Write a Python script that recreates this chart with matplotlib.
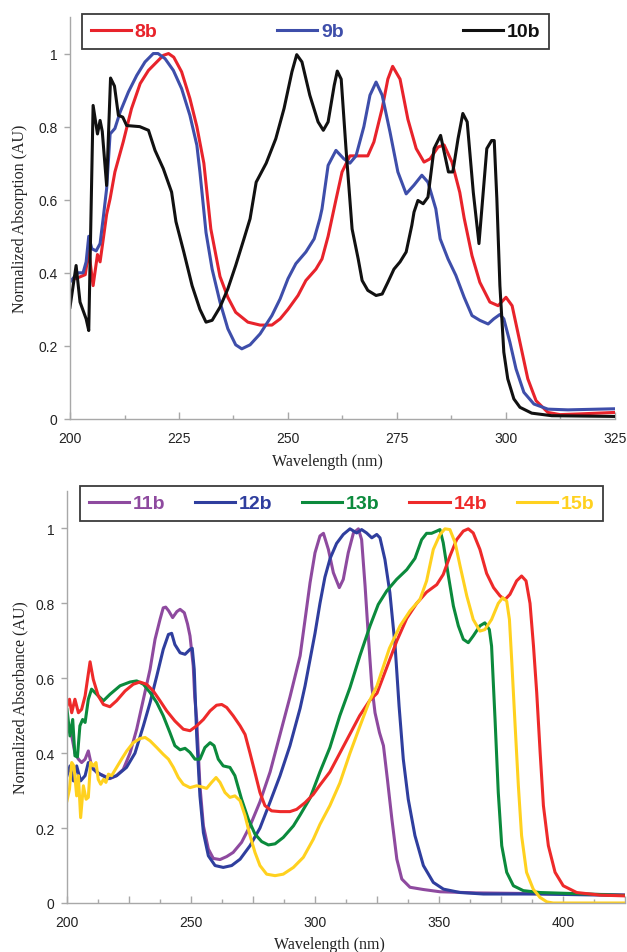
import matplotlib
matplotlib.use('Agg')
import matplotlib.pyplot as plt
from matplotlib.ticker import MultipleLocator, FuncFormatter
from matplotlib.font_manager import FontProperties

# ---------------- top panel data ----------------
top_labels = ['8b', '9b', '10b']
top_colors = ['#E8232B', '#3E4EAA', '#111111']

x_8b = [200, 201.5, 203.5, 204.3, 205.3, 206.3, 206.9, 207.6, 208.4, 209.2, 210.3, 212.2, 214.1, 216.1,
        218, 219.9, 221.4, 222.6, 223.8, 225.6, 227.5, 229.1, 230.7, 232.3, 234.4, 236.2, 238, 240.8,
        243.6, 246.3, 248.2, 250, 252.3, 254.1, 256.4, 257.8, 259.2, 261, 262.4, 264.2, 266.5, 268.3,
        269.7, 271.6, 272.9, 274, 275.7, 277.5, 279.4, 281.2, 282.6, 284.4, 285.8, 287.6, 289.4, 290.4,
        292.2, 294, 296.3, 298.2, 300, 301.4, 303.2, 305, 306.9, 309.6, 312.4, 317, 325]
y_8b = [0.38, 0.385, 0.395, 0.46, 0.365, 0.45, 0.43, 0.49, 0.56, 0.603, 0.676, 0.758, 0.849, 0.918,
        0.954, 0.977, 0.995, 1.0, 0.99, 0.95, 0.877, 0.80, 0.70, 0.52, 0.39, 0.333, 0.292, 0.265,
        0.257, 0.257, 0.274, 0.30, 0.338, 0.379, 0.41, 0.438, 0.50, 0.60, 0.676, 0.72, 0.72, 0.72,
        0.758, 0.85, 0.93, 0.965, 0.93, 0.82, 0.74, 0.703, 0.712, 0.744, 0.75, 0.703, 0.62, 0.55,
        0.447, 0.374, 0.32, 0.31, 0.333, 0.31, 0.21, 0.11, 0.05, 0.018, 0.012, 0.014, 0.018]

x_9b = [200, 201.8, 203, 203.7, 204.3, 205, 206, 206.9, 207.6, 208.4, 209.2, 210.3, 211.5, 213.4, 215.3,
        217.2, 219.1, 220.2, 221.8, 223.7, 225.6, 227.5, 229.1, 229.8, 231.2, 232.6, 234.4, 236.2, 238,
        239.4, 241.3, 243.6, 246.3, 248.2, 250, 251.8, 254.1, 256, 257.3, 257.8, 259.2, 261, 262.8,
        264.2, 265.6, 267.4, 268.8, 270.2, 271.6, 273.4, 275.2, 277.1, 278.9, 280.7, 282.1, 283.9,
        284.9, 286.7, 288.5, 290.4, 292.2, 294, 295.9, 297.2, 298.6, 299.5, 300.9, 302.3, 304.1, 306.4,
        309.6, 314.2, 325]
y_9b = [0.375, 0.40, 0.40, 0.43, 0.50, 0.466, 0.46, 0.48, 0.548, 0.63, 0.78, 0.795, 0.84, 0.895, 0.94,
        0.977, 1.0, 1.0, 0.986, 0.954, 0.904, 0.831, 0.749, 0.676, 0.51, 0.41, 0.32, 0.247, 0.203,
        0.192, 0.203, 0.233, 0.283, 0.329, 0.384, 0.425, 0.457, 0.493, 0.548, 0.575, 0.694, 0.735, 0.712,
        0.70, 0.72, 0.80, 0.886, 0.922, 0.886, 0.785, 0.676, 0.616, 0.64, 0.667, 0.648, 0.575,
        0.493, 0.438, 0.393, 0.333, 0.283, 0.27, 0.26, 0.274, 0.286, 0.274, 0.21, 0.137, 0.073, 0.041,
        0.027, 0.025, 0.028]

x_10b = [200, 201.4, 202.3, 203.7, 204.3, 205.3, 206.3, 206.9, 207.4, 208.4, 209.3, 210.2, 211.1, 212.1,
         213, 216, 218, 219.5, 221.4, 223.3, 224.3, 226.1, 228, 229.8, 231.2, 232.6, 234.4, 236.2, 238,
         239.9, 241.3, 242.7, 245, 247.2, 249.1, 250.9, 252, 253.2, 255, 256.9, 258.1, 259.2, 260.6,
         261.3, 262.2, 263.3, 264.7, 266.1, 267, 268.3, 270.2, 271.6, 272.9, 274.3, 275.7, 277.1, 278.4,
         278.9, 279.8, 281, 282.1, 283.5, 285, 286.8, 287.8, 289, 290.1, 291.1, 292.5, 293.8, 295.6,
         296.7, 297.3, 297.9, 298.6, 299.5, 300.4, 301.8, 303.2, 305.9, 310.5, 325]
y_10b = [0.306, 0.42, 0.32, 0.274, 0.242, 0.858, 0.78, 0.817, 0.787, 0.639, 0.933, 0.911, 0.831, 0.826,
         0.803, 0.80, 0.79, 0.735, 0.685, 0.621, 0.54, 0.457, 0.365, 0.30, 0.265, 0.27, 0.306, 0.356, 0.42,
         0.493, 0.548, 0.648, 0.70, 0.767, 0.85, 0.95, 0.997, 0.977, 0.886, 0.813, 0.79, 0.813, 0.913,
         0.952, 0.93, 0.74, 0.52, 0.438, 0.379, 0.352, 0.338, 0.342, 0.374, 0.41, 0.43, 0.457, 0.53,
         0.566, 0.598, 0.589, 0.607, 0.74, 0.776, 0.676, 0.676, 0.767, 0.836, 0.813, 0.62, 0.48, 0.74,
         0.762, 0.762, 0.603, 0.365, 0.183, 0.11, 0.055, 0.032, 0.016, 0.009, 0.007]

# ---------------- bottom panel data ----------------
bot_labels = ['11b', '12b', '13b', '14b', '15b']
bot_colors = ['#8E4A9F', '#2F3E9E', '#0B8A3C', '#EE2A2A', '#FFD11F']

x_11b = [200, 201.9, 203.2, 204.6, 205.9, 207.3, 208.6, 209.9, 212, 214.7, 217.3, 220, 222.7, 225.4, 228.1,
         230.8, 233.5, 235.5, 237.5, 238.8, 239.8, 241, 242.6, 244.3, 245.6, 247.3, 248.6, 249.6, 250.9,
         251.5, 252.3, 253.6, 255, 257, 259, 261.7, 264.4, 267, 270.4, 273.8, 277.8, 281.9, 285.9, 289.9,
         294, 296, 298, 300, 302, 303.4, 305.4, 307.4, 309.8, 311.4, 313.4, 315.5, 317.5, 318.8, 320.2,
         321.5, 322.9, 324.2, 326, 327.6, 329.2, 331, 333, 335, 338.3, 343.7, 350.4, 365, 390, 425]
y_11b = [0.473, 0.446, 0.40, 0.384, 0.375, 0.384, 0.406, 0.366, 0.348, 0.34, 0.332, 0.34, 0.357, 0.40, 0.464,
         0.544, 0.624, 0.704, 0.757, 0.788, 0.79, 0.78, 0.762, 0.778, 0.784, 0.775, 0.745, 0.713, 0.633,
         0.55, 0.49, 0.313, 0.206, 0.144, 0.119, 0.116, 0.124, 0.135, 0.162, 0.206, 0.27, 0.35, 0.45, 0.55,
         0.66, 0.757, 0.855, 0.935, 0.98, 0.987, 0.944, 0.882, 0.842, 0.864, 0.935, 0.988, 0.999, 0.97, 0.846,
         0.713, 0.58, 0.508, 0.455, 0.42, 0.33, 0.224, 0.117, 0.064, 0.042, 0.036, 0.03, 0.027, 0.025, 0.022]

x_12b = [200, 201.2, 202.6, 203.9, 205.5, 207.3, 208.6, 210.6, 213.3, 216.7, 220, 224, 227.4, 230.8, 233.5,
         236.2, 238.8, 240.9, 242.2, 243.5, 245.6, 247.6, 249.6, 250.5, 251.3, 252.3, 253.6, 255, 257,
         259.7, 263, 266.4, 269.8, 273.8, 277.8, 281.9, 285.9, 289.9, 294, 296, 298, 300, 302, 304, 306.1,
         308.7, 311.4, 314.1, 316.8, 318.8, 320.8, 322.9, 324.9, 326.2, 328.2, 330.2, 332.3, 333.9, 335.6,
         337.6, 340.3, 343.7, 347.7, 351.8, 358.5, 367.9, 390, 425]
y_12b = [0.34, 0.366, 0.326, 0.366, 0.326, 0.34, 0.375, 0.357, 0.344, 0.332, 0.34, 0.362, 0.40, 0.473, 0.535,
         0.606, 0.677, 0.717, 0.72, 0.69, 0.668, 0.664, 0.677, 0.68, 0.624, 0.446, 0.286, 0.188, 0.126,
         0.10, 0.095, 0.10, 0.117, 0.153, 0.20, 0.27, 0.34, 0.42, 0.52, 0.58, 0.65, 0.72, 0.80, 0.87, 0.92,
         0.96, 0.984, 0.999, 0.988, 0.997, 0.988, 0.975, 0.984, 0.975, 0.917, 0.828, 0.686, 0.526, 0.384,
         0.277, 0.18, 0.10, 0.055, 0.037, 0.028, 0.024, 0.024, 0.02]

x_13b = [200, 201.2, 202.3, 203.2, 204.2, 205.2, 206.3, 207.3, 208.6, 209.9, 212, 214.7, 217.3, 221.4, 225.4,
         228.1, 230.8, 233.5, 236.2, 238.8, 241.5, 243.5, 245.6, 247.6, 249.6, 251.6, 253.6, 255.6, 257.7,
         259.3, 261, 263, 265.7, 267.7, 270.4, 273.1, 275.8, 278.5, 281.2, 283.9, 287.2, 291.3, 294, 298,
         302, 306, 310, 314.1, 318.1, 322.2, 325.5, 328.9, 332.9, 337, 340.3, 343, 345, 347, 349.1, 350.4,
         351.7, 353.8, 355.8, 357.8, 359.8, 361.8, 363.8, 366.5, 368.5, 370.3, 371.2, 372.6, 373.9, 375.3,
         377.3, 380, 384, 390.7, 410, 425]
y_13b = [0.517, 0.446, 0.49, 0.393, 0.39, 0.473, 0.49, 0.482, 0.544, 0.571, 0.557, 0.54, 0.557, 0.58, 0.59,
         0.593, 0.584, 0.562, 0.535, 0.50, 0.455, 0.42, 0.409, 0.413, 0.402, 0.384, 0.384, 0.415, 0.428,
         0.42, 0.384, 0.366, 0.362, 0.34, 0.277, 0.224, 0.184, 0.164, 0.155, 0.158, 0.175, 0.206, 0.235, 0.28,
         0.35, 0.415, 0.50, 0.575, 0.66, 0.74, 0.797, 0.833, 0.864, 0.89, 0.92, 0.97, 0.987, 0.987, 0.993, 0.997,
         0.962, 0.873, 0.793, 0.74, 0.704, 0.695, 0.713, 0.74, 0.748, 0.73, 0.686, 0.49, 0.295, 0.153,
         0.082, 0.046, 0.033, 0.028, 0.024, 0.02]

x_14b = [200, 201, 201.9, 203.2, 204.6, 205.9, 207.3, 209.3, 210.6, 212.6, 214.7, 217.3, 220, 223.4, 226.7,
         229.4, 232.1, 234.8, 237.5, 240.2, 243.5, 246.9, 249.6, 252.3, 255, 257.7, 260.3, 262.4, 264.4,
         267, 269.8, 271.8, 273.8, 275.8, 277.8, 279.8, 282.5, 285.9, 289.9, 292.6, 296, 299.3, 302, 306,
         310, 314, 318, 322, 325, 329, 333, 337, 341, 345, 349.1, 351.7, 354.4, 357.1, 359.8, 361.8, 363.8,
         366.5, 369.2, 372, 374.6, 376.6, 378.6, 381.3, 383.3, 385.1, 386.7, 388.1, 389.4, 390.8, 392.1,
         394.1, 396.8, 400.1, 405.5, 415, 425]
y_14b = [0.526, 0.544, 0.508, 0.544, 0.508, 0.517, 0.553, 0.644, 0.597, 0.553, 0.53, 0.524, 0.54, 0.566, 0.584,
         0.59, 0.584, 0.566, 0.54, 0.513, 0.486, 0.464, 0.46, 0.473, 0.49, 0.513, 0.528, 0.53, 0.522,
         0.50, 0.473, 0.45, 0.40, 0.348, 0.295, 0.26, 0.246, 0.244, 0.244, 0.25, 0.268, 0.29, 0.315, 0.35,
         0.40, 0.45, 0.50, 0.54, 0.56, 0.63, 0.70, 0.76, 0.80, 0.83, 0.85, 0.877, 0.926, 0.97, 0.993, 0.999, 0.988,
         0.944, 0.88, 0.842, 0.82, 0.81, 0.824, 0.86, 0.873, 0.86, 0.80, 0.686, 0.562, 0.40, 0.26,
         0.153, 0.082, 0.046, 0.028, 0.021, 0.019]

x_15b = [200, 201, 201.9, 202.8, 203.9, 204.6, 205.5, 206.6, 207.7, 208.6, 209.5, 210.6, 211.7, 212.6, 213.6,
         214.7, 215.7, 216.7, 218, 220, 222, 224.1, 226.7, 229.4, 231.5, 233.5, 236.2, 238.8, 240.9, 242.9,
         244.9, 246.9, 249.6, 252.3, 254.3, 256.3, 258.3, 260.1, 261.7, 263.7, 265.7, 267.7, 269.8, 271.8,
         273.8, 275.8, 277.8, 280.5, 283.9, 287.2, 291.3, 295.3, 299.3, 302, 306, 310, 314.1, 318, 322,
         325, 330, 334.3, 338.3, 342.3, 345, 347.7, 350.4, 352.4, 354.4, 356.5, 358.5, 361.2, 363.8, 366.5,
         368.5, 371.2, 373.9, 375.7, 377.3, 378.4, 379.3, 380.7, 382, 383.3, 385.3, 388, 390.7, 393.5, 396, 425]
y_15b = [0.273, 0.304, 0.375, 0.366, 0.286, 0.34, 0.228, 0.313, 0.277, 0.282, 0.375, 0.366, 0.375, 0.33, 0.317,
         0.33, 0.322, 0.344, 0.34, 0.362, 0.384, 0.406, 0.428, 0.439, 0.442, 0.433, 0.415, 0.397, 0.384, 0.362,
         0.335, 0.317, 0.308, 0.313, 0.31, 0.306, 0.322, 0.335, 0.322, 0.295, 0.282, 0.286, 0.273, 0.233,
         0.18, 0.135, 0.10, 0.077, 0.073, 0.077, 0.095, 0.122, 0.17, 0.21, 0.26, 0.32, 0.40, 0.47, 0.54,
         0.58, 0.68, 0.74, 0.78, 0.81, 0.86, 0.944, 0.984, 0.999, 0.997, 0.962, 0.90, 0.82, 0.757, 0.726,
         0.73, 0.757, 0.80, 0.815, 0.806, 0.757, 0.65, 0.473, 0.313, 0.18, 0.082, 0.037, 0.015, 0.003, 0.0, 0.0]

top_series = [(x_8b, y_8b), (x_9b, y_9b), (x_10b, y_10b)]
bot_series = [(x_11b, y_11b), (x_12b, y_12b), (x_13b, y_13b), (x_14b, y_14b), (x_15b, y_15b)]

# ---------------- figure ----------------
SANS = 'Liberation Sans'
SERIF = 'Liberation Serif'
GRAY = '#a8a8a8'

fig = plt.figure(figsize=(6.27, 9.53), dpi=100)
ax1 = fig.add_axes([70 / 627, 1 - 420 / 953, 545 / 627, 402 / 953])
ax2 = fig.add_axes([67 / 627, 1 - 904 / 953, 558 / 627, 412 / 953])


def style(ax, xmax, major, label_every, ylabel, xlab_pos, ylab_x):
    for s in ['top', 'right']:
        ax.spines[s].set_visible(False)
    for s in ['left', 'bottom']:
        ax.spines[s].set_color(GRAY)
        ax.spines[s].set_linewidth(1.0)
    ax.set_xlim(200, xmax)
    ax.set_ylim(0, 1.1)
    ax.xaxis.set_major_locator(MultipleLocator(major))
    ax.xaxis.set_minor_locator(MultipleLocator(12.5))
    ax.xaxis.set_major_formatter(FuncFormatter(
        lambda v, p: f'{v:.0f}' if abs(((v - 200) / label_every) - round((v - 200) / label_every)) < 1e-6 else ''))
    ax.yaxis.set_major_locator(MultipleLocator(0.2))
    ax.yaxis.set_major_formatter(FuncFormatter(lambda v, p: f'{round(v, 2):g}'))
    ax.tick_params(axis='x', which='major', direction='in', length=5, width=1, color=GRAY,
                   pad=9, labelsize=10, labelcolor='#222222')
    ax.tick_params(axis='x', which='minor', direction='in', length=3, width=1, color=GRAY)
    ax.tick_params(axis='y', which='major', direction='out', length=4, width=1, color=GRAY,
                   pad=5, labelsize=10, labelcolor='#222222')
    for lab in ax.get_xticklabels() + ax.get_yticklabels():
        lab.set_fontfamily(SANS)
    ax.set_xlabel('Wavelength (nm)', fontfamily=SERIF, fontsize=11.5, color='#222222')
    ax.set_ylabel(ylabel, fontfamily=SERIF, fontsize=11.5, color='#222222')
    ax.xaxis.set_label_coords(*xlab_pos)
    ax.yaxis.set_label_coords(ylab_x, 0.5)


lines_top = []
for (xs, ys), c, lab in zip(top_series, top_colors, top_labels):
    ln, = ax1.plot(xs, ys, color=c, lw=2.2, label=lab, solid_joinstyle='round')
    lines_top.append(ln)

lines_bot = []
for (xs, ys), c, lab in zip(bot_series, bot_colors, bot_labels):
    ln, = ax2.plot(xs, ys, color=c, lw=2.2, label=lab, solid_joinstyle='round', clip_on=True)
    lines_bot.append(ln)

style(ax1, 325, 25, 25, 'Normalized Absorption (AU)', (0.473, -0.085), -0.077)
style(ax2, 425, 25, 50, 'Normalized Absorbance (AU)', (0.471, -0.080), -0.070)

legfont = FontProperties(family=SANS, weight='bold', size=14)

leg1 = fig.legend(handles=lines_top, labels=top_labels, loc='upper left',
                  bbox_to_anchor=(82 / 627, 1 - 15 / 953), bbox_transform=fig.transFigure,
                  ncol=3, frameon=True, fancybox=False, borderaxespad=0, handlelength=2.06,
                  handletextpad=0.2, columnspacing=6.15, borderpad=0.45, prop=legfont)
leg2 = fig.legend(handles=lines_bot, labels=bot_labels, loc='upper left',
                  bbox_to_anchor=(80 / 627, 1 - 487 / 953), bbox_transform=fig.transFigure,
                  ncol=5, frameon=True, fancybox=False, borderaxespad=0, handlelength=2.06,
                  handletextpad=0.2, columnspacing=1.53, borderpad=0.45, prop=legfont)
for leg in (leg1, leg2):
    fr = leg.get_frame()
    fr.set_edgecolor('#3a3a3a')
    fr.set_linewidth(1.3)
    fr.set_alpha(1)
    for t, ln in zip(leg.get_texts(), leg.get_lines()):
        t.set_color(ln.get_color())
    leg.set_zorder(10)

fig.savefig('out.png', dpi=100, facecolor='white')
